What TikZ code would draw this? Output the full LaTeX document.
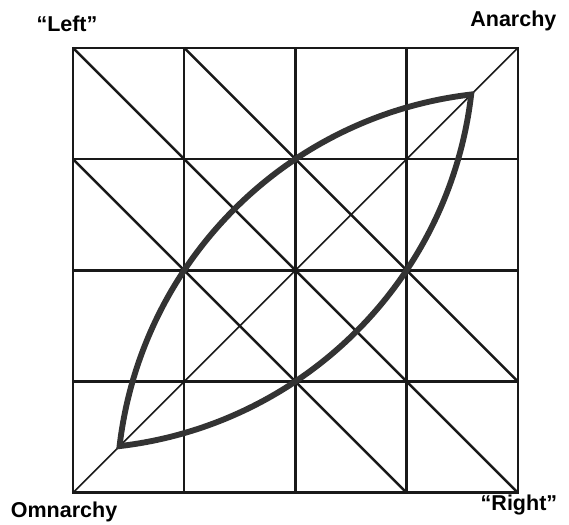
\documentclass[tikz,border=0pt]{standalone}
\usepackage{fontspec}
\setmainfont{Liberation Sans}
\usetikzlibrary{positioning}

\begin{document}
\begin{tikzpicture}[
    x=2cm, y=2cm,
    gridline/.style={line width=1.3pt, draw=black!90},
    diagline/.style={line width=0.8pt, draw=black!90},
    lens/.style={line width=3pt, draw=black!80, line join=miter},
    every node/.style={font=\bfseries\fontsize{11}{13}\selectfont, inner sep=0pt}
]
\useasboundingbox (-0.656,-0.288) rectangle (4.46,4.43);
% grid
\draw[gridline, step=2cm] (0,0) grid (4,4);
\draw[gridline] (0,0) rectangle (4,4);
% falling diagonals
\draw[gridline] (0,4) -- (4,0);
\draw[gridline] (1,4) -- (4,1);
\draw[gridline] (0,3) -- (3,0);
% rising diagonal
\draw[diagline] (0,0) -- (4,4);
% lens between the two poles
\coordinate (om) at (0.419,0.419);
\coordinate (an) at (3.581,3.581);
\draw[lens] (om) arc[start angle=173.32, end angle=96.68, radius=7.211cm]
    arc[start angle=-6.68, end angle=-83.32, radius=7.211cm] -- cycle;
% labels
\node (left) at (-0.054,4.22) {``Left''};
\node (anarchy) at (3.96,4.24) {Anarchy};
\node (omnarchy) at (-0.08,-0.17) {Omnarchy};
\node (right) at (4.01,-0.11) {``Right''};
\end{tikzpicture}
\end{document}
